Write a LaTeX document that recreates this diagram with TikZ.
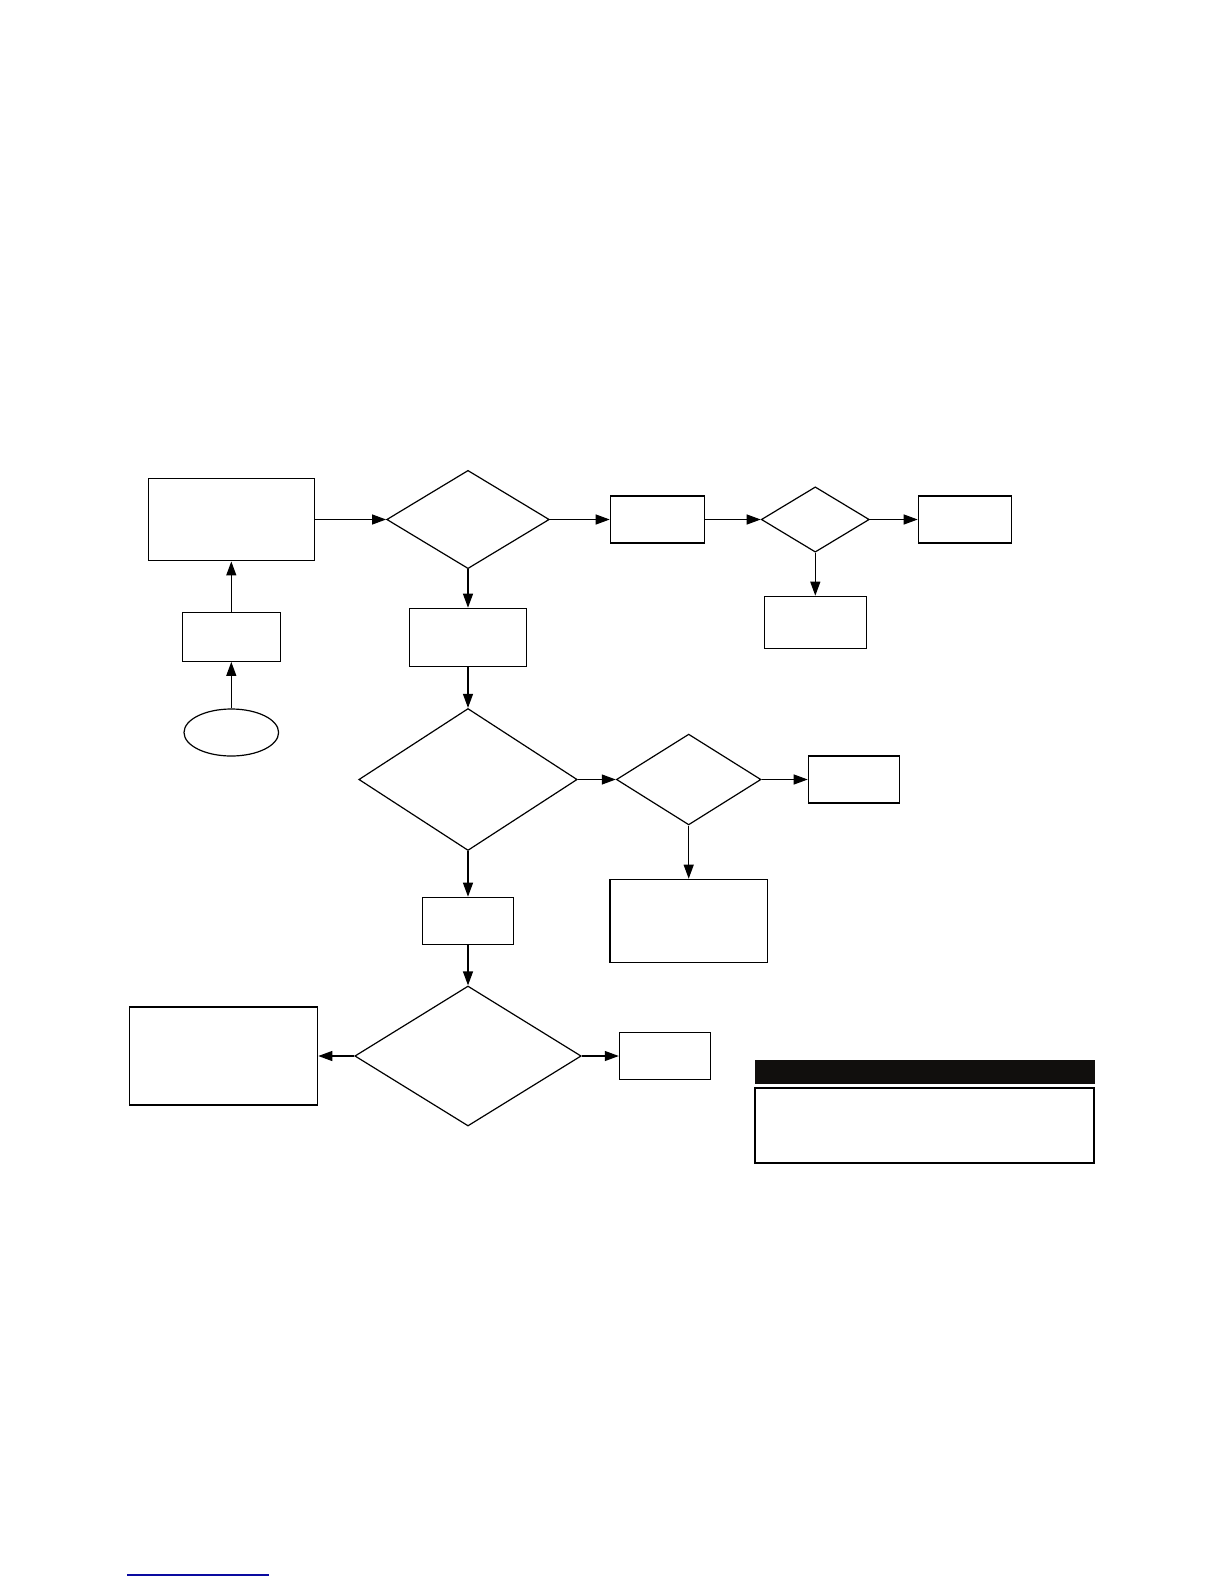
\documentclass[tikz,border=0pt]{standalone}
\usetikzlibrary{shapes.geometric,arrows.meta}
\definecolor{barfill}{HTML}{110F0D}
\definecolor{linkblue}{HTML}{0A0AA0}
\begin{document}
\begin{tikzpicture}[x=0.5pt,y=-0.5pt,
  box/.style={draw=black,line width=0.6pt,rectangle,inner sep=0pt,fill=white},
  dec/.style={draw=black,line width=0.6pt,diamond,inner sep=0pt,fill=white},
  oval/.style={draw=black,line width=0.6pt,ellipse,inner sep=0pt,fill=white},
  conn/.style={draw=black,line width=0.6pt,-{Triangle[length=7pt,width=5pt]}}]
\useasboundingbox (0,0) rectangle (1224,1584);
% column x = 231.3
\node[box,minimum width=83pt,minimum height=41.35pt] (a) at (231.3,519.5) {};
\node[box,minimum width=49.2pt,minimum height=24.5pt] (b) at (231.3,636.8) {};
\node[oval,minimum width=47.3pt,minimum height=23.5pt] (s) at (231.3,732.5) {};
% main column x = 468
\node[dec,minimum width=81.3pt,minimum height=49.15pt] (d1) at (468,519.5) {};
\node[box,minimum width=58.7pt,minimum height=29pt] (c) at (468,637.3) {};
\node[dec,minimum width=109.2pt,minimum height=71pt] (d2) at (468,779.5) {};
\node[box,minimum width=45.6pt,minimum height=23.5pt] (j) at (468,920.8) {};
\node[dec,minimum width=113.2pt,minimum height=70pt] (d5) at (468,1056) {};
% top row
\node[box,minimum width=47pt,minimum height=23.5pt] (e) at (657.3,519.5) {};
\node[dec,minimum width=54pt,minimum height=32.65pt] (d3) at (815.3,519.5) {};
\node[box,minimum width=46.5pt,minimum height=23.5pt] (f) at (964.8,519.5) {};
\node[box,minimum width=51pt,minimum height=26pt] (g) at (815.3,622.3) {};
% middle row
\node[dec,minimum width=72.3pt,minimum height=45.4pt] (d4) at (688.7,779.5) {};
\node[box,minimum width=45.7pt,minimum height=23.5pt] (h) at (854,779.5) {};
\node[box,minimum width=78.7pt,minimum height=41.5pt] (i) at (688.7,920.8) {};
% bottom row
\node[box,minimum width=94.2pt,minimum height=49pt] (k) at (223.5,1056) {};
\node[box,minimum width=45.5pt,minimum height=23.25pt] (l) at (664.9,1056) {};
% legend
\node[rectangle,fill=barfill,inner sep=0pt,minimum width=170pt,minimum height=12pt] (bar) at (925,1072) {};
\node[rectangle,draw=black,line width=0.9pt,inner sep=0pt,minimum width=169.5pt,minimum height=37.5pt] (m) at (924.8,1125.8) {};
% connectors
\draw[conn] (s) -- (b);
\draw[conn] (b) -- (a);
\draw[conn] (a) -- (d1);
\draw[conn] (d1) -- (e);
\draw[conn] (e) -- (d3);
\draw[conn] (d3) -- (f);
\draw[conn] (d3) -- (g);
\draw[conn] (d1) -- (c);
\draw[conn] (c) -- (d2);
\draw[conn] (d2) -- (d4);
\draw[conn] (d4) -- (h);
\draw[conn] (d4) -- (i);
\draw[conn] (d2) -- (j);
\draw[conn] (j) -- (d5);
\draw[conn] (d5) -- (k);
\draw[conn] (d5) -- (l);
% blue rule at the foot
\coordinate (u1) at (127,1575);
\coordinate (u2) at (269,1575);
\draw[linkblue,line width=0.6pt] (u1) -- (u2);
\end{tikzpicture}
\end{document}
